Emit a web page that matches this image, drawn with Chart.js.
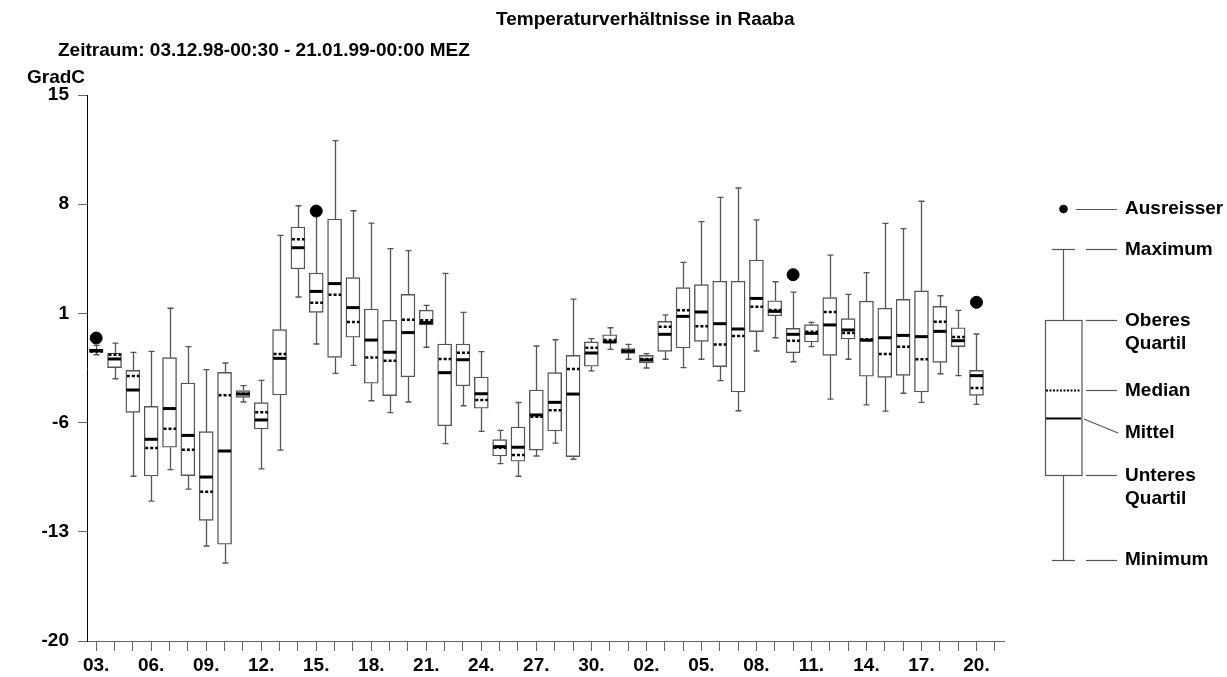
<!DOCTYPE html>
<html>
<head>
<meta charset="utf-8">
<title>Temperaturverhältnisse in Raaba</title>
<script src="https://cdn.jsdelivr.net/npm/chart.js@4.4.1/dist/chart.umd.min.js"></script>
<style>
  html, body { margin: 0; padding: 0; background: #fff; }
  #wrap { width: 1227px; height: 677px; position: relative; }
</style>
</head>
<body>
<div id="wrap"><canvas id="c" width="1227" height="677"></canvas></div>
<script>
// Tagesabschnitte 03.12.98 bis 21.01.99 (letzter Abschnitt ohne Werte)
const days = [
  '03.','04.','05.','06.','07.','08.','09.','10.','11.','12.','13.','14.','15.','16.','17.',
  '18.','19.','20.','21.','22.','23.','24.','25.','26.','27.','28.','29.','30.','31.',
  '01.','02.','03.','04.','05.','06.','07.','08.','09.','10.','11.','12.','13.','14.','15.',
  '16.','17.','18.','19.','20.','21.'
];

// Tageswerte in GradC
const minimum = [
  -1.65, -3.19, -9.44, -11.03, -9.01, -10.26, -13.91, -15.0, -4.68, -8.97,
  -7.76, 2.05, -0.96, -2.84, -2.33, -4.6, -5.36, -4.68, -1.17, -7.35,
  -4.92, -6.56, -8.63, -9.44, -8.14, -7.31, -8.35, -2.69, -1.3, -1.94,
  -2.5, -1.94, -2.48, -1.94, -3.31, -5.24, -1.41, -0.56, -2.1, -1.13,
  -4.49, -1.94, -4.87, -5.26, -4.12, -4.7, -2.87, -2.99, -4.83
];
const lowerQuartile = [
  -1.5, -2.48, -5.34, -9.42, -7.58, -9.4, -12.27, -13.8, -4.38, -6.41,
  -4.23, 3.85, 1.07, -1.82, -0.53, -3.48, -4.27, -3.06, 0.26, -6.2,
  -3.65, -5.08, -8.14, -8.48, -7.76, -6.54, -8.18, -2.39, -0.9, -1.56,
  -2.18, -1.43, -1.22, -0.79, -2.41, -4.04, -0.17, 0.85, -1.52, -0.83,
  -1.69, -0.64, -3.03, -3.1, -2.97, -4.04, -2.14, -1.13, -4.25
];
const median = [
  -1.45, -1.65, -3.01, -7.63, -6.39, -7.74, -10.43, -4.25, -4.15, -5.34,
  -1.6, 5.75, 1.69, 2.2, 0.45, -1.82, -2.03, 0.6, 0.56, -1.92,
  -1.52, -4.55, -7.61, -8.08, -5.62, -5.21, -2.56, -1.2, -0.71, -1.39,
  -1.92, 0.15, 1.2, 0.17, -1.0, -0.45, 1.43, 1.22, -0.75, -0.17,
  1.09, -0.26, -0.66, -1.6, -1.13, -1.94, 0.47, -0.51, -3.78
];
const mean = [
  -1.38, -1.92, -3.91, -7.07, -5.1, -6.82, -9.49, -7.82, -4.17, -5.83,
  -1.88, 5.21, 2.41, 2.91, 1.37, -0.71, -1.49, -0.23, 0.41, -2.8,
  -1.97, -4.15, -7.54, -7.58, -5.51, -4.7, -4.17, -1.54, -0.83, -1.43,
  -1.99, -0.34, 0.81, 1.09, 0.34, 0.0, 1.96, 1.13, -0.34, -0.28,
  0.26, -0.06, -0.72, -0.56, -0.41, -0.49, -0.15, -0.75, -2.99
];
const upperQuartile = [
  -1.28, -1.54, -2.65, -4.96, -1.84, -3.46, -6.58, -2.78, -3.95, -4.72,
  -0.04, 6.54, 3.59, 7.05, 3.29, 1.28, 0.56, 2.22, 1.2, -0.96,
  -0.96, -3.08, -7.09, -6.28, -3.91, -2.8, -1.69, -0.83, -0.37, -1.26,
  -1.69, 0.49, 2.65, 2.84, 3.06, 3.06, 4.42, 1.81, 0.04, 0.28,
  2.01, 0.66, 1.79, 1.33, 1.9, 2.44, 1.45, 0.08, -2.65
];
const maximum = [
  -1.05, -0.9, -1.5, -1.43, 1.33, -1.13, -2.61, -2.18, -3.63, -3.29,
  6.0, 7.9, 7.3, 12.07, 7.58, 6.79, 5.15, 5.02, 1.51, 3.57,
  1.07, -1.45, -6.5, -4.71, -1.09, -0.69, 1.91, -0.62, 0.08, -0.98,
  -1.58, 0.9, 4.27, 6.88, 8.44, 9.04, 6.99, 3.03, 2.37, 0.43,
  4.74, 2.22, 3.61, 6.77, 6.43, 8.19, 2.13, 1.2, -0.32
];
const outliers = [
  -0.58, null, null, null, null, null, null, null, null, null,
  null, null, 7.56, null, null, null, null, null, null, null,
  null, null, null, null, null, null, null, null, null, null,
  null, null, null, null, null, null, null, null, 3.48, null,
  null, null, null, null, null, null, null, null, 1.71
];

const yTicks = [-20, -13, -6, 1, 8, 15];

const FONT = "'Liberation Sans', Arial, Helvetica, sans-serif";
const BOLD19 = 'bold 19px ' + FONT;

// Whiskers behind the boxes, median and mean lines on top of them
const boxLines = {
  id: 'boxLines',
  beforeDatasetsDraw(chart) {
    const { ctx, scales: { x, y } } = chart;
    ctx.save();
    ctx.strokeStyle = '#555';
    ctx.lineWidth = 1.3;
    minimum.forEach((mn, i) => {
      const px = Math.round(x.getPixelForValue(i)) + 0.5;
      const yMax = y.getPixelForValue(maximum[i]);
      const yMin = y.getPixelForValue(mn);
      ctx.beginPath();
      ctx.moveTo(px, yMax); ctx.lineTo(px, y.getPixelForValue(upperQuartile[i]));
      ctx.moveTo(px, y.getPixelForValue(lowerQuartile[i])); ctx.lineTo(px, yMin);
      ctx.moveTo(px - 3, yMax); ctx.lineTo(px + 3, yMax);
      ctx.moveTo(px - 3, yMin); ctx.lineTo(px + 3, yMin);
      ctx.stroke();
    });
    ctx.restore();
  },
  afterDatasetsDraw(chart) {
    const { ctx, scales: { x, y } } = chart;
    ctx.save();
    ctx.strokeStyle = '#000';
    minimum.forEach((_, i) => {
      const px = x.getPixelForValue(i);
      const left = px - 6.5, right = px + 6.5;
      ctx.setLineDash([]);
      ctx.lineWidth = 3;
      const ym = y.getPixelForValue(mean[i]);
      ctx.beginPath(); ctx.moveTo(left, ym); ctx.lineTo(right, ym); ctx.stroke();
      ctx.setLineDash([3, 2]);
      ctx.lineWidth = 2.5;
      const yd = y.getPixelForValue(median[i]);
      ctx.beginPath(); ctx.moveTo(left + 0.5, yd); ctx.lineTo(right, yd); ctx.stroke();
    });
    ctx.restore();
  }
};

// Titles, unit label and the explanatory key on the right
const annotations = {
  id: 'annotations',
  afterDraw(chart) {
    const ctx = chart.ctx;
    ctx.save();
    ctx.fillStyle = '#000';
    ctx.font = BOLD19;
    ctx.textAlign = 'left';
    ctx.textBaseline = 'alphabetic';
    ctx.fillText('Temperaturverhältnisse in Raaba', 496, 25);
    ctx.fillText('Zeitraum: 03.12.98-00:30 - 21.01.99-00:00 MEZ', 58, 56);
    ctx.fillText('GradC', 27, 83);

    // key
    const cx = 1063.5;
    ctx.strokeStyle = '#555';
    ctx.lineWidth = 1.2;
    const seg = (x1, y1, x2, y2) => { ctx.beginPath(); ctx.moveTo(x1, y1); ctx.lineTo(x2, y2); ctx.stroke(); };
    ctx.beginPath(); ctx.arc(cx, 209, 4.3, 0, Math.PI * 2); ctx.fill();
    seg(1076, 209.5, 1117, 209.5);
    seg(1052, 249.5, 1075, 249.5); seg(1086, 249.5, 1117, 249.5);
    seg(cx, 249.5, cx, 320.5); seg(cx, 475.5, cx, 560.5);
    ctx.fillStyle = '#fff';
    ctx.fillRect(1045, 320.5, 37, 155);
    ctx.strokeRect(1045.5, 320.5, 36.5, 155);
    seg(1086, 320.5, 1117, 320.5);
    seg(1086, 475.5, 1117, 475.5);
    seg(1052, 560.5, 1075, 560.5); seg(1086, 560.5, 1117, 560.5);
    seg(1086, 390.5, 1117, 390.5);
    seg(1084, 419, 1118, 433);
    ctx.strokeStyle = '#000';
    ctx.lineWidth = 2;
    ctx.setLineDash([2, 1.5]);
    seg(1046, 390.5, 1081, 390.5);
    ctx.setLineDash([]);
    seg(1046, 418.5, 1081, 418.5);

    ctx.fillStyle = '#000';
    ctx.textBaseline = 'middle';
    const keyLabels = [
      ['Ausreisser', 209], ['Maximum', 250], ['Oberes', 321], ['Quartil', 344],
      ['Median', 391], ['Mittel', 433], ['Unteres', 476], ['Quartil', 499], ['Minimum', 560]
    ];
    keyLabels.forEach(([t, yy]) => ctx.fillText(t, 1125, yy));
    ctx.restore();
  }
};

new Chart(document.getElementById('c'), {
  type: 'bar',
  data: {
    labels: days,
    datasets: [
      {
        type: 'line',
        label: 'Ausreisser',
        data: outliers,
        showLine: false,
        pointRadius: 6,
        pointHoverRadius: 6,
        pointBackgroundColor: '#000',
        pointBorderColor: '#000',
        order: 0
      },
      {
        type: 'bar',
        label: 'Quartile',
        data: lowerQuartile.map((q, i) => [q, upperQuartile[i]]),
        backgroundColor: '#fff',
        borderColor: '#555',
        borderWidth: 1.4,
        borderSkipped: false,
        barThickness: 14,
        order: 1
      }
    ]
  },
  options: {
    responsive: false,
    animation: false,
    devicePixelRatio: 1,
    layout: { padding: { left: 0, top: 95, right: 223, bottom: 0 } },
    plugins: {
      legend: { display: false },
      tooltip: { enabled: false },
      title: { display: false }
    },
    scales: {
      x: {
        type: 'category',
        offset: true,
        grid: { drawOnChartArea: false, drawTicks: true, tickLength: 10, color: '#666', offset: false },
        border: { color: '#666', width: 1 },
        ticks: {
          autoSkip: false,
          maxRotation: 0,
          padding: 3,
          color: '#000',
          font: { family: FONT, size: 19, weight: 'bold' },
          callback: (v, i) => (i % 3 === 0 ? days[i] : '')
        },
        afterFit: (s) => { s.height = 36; }
      },
      y: {
        min: yTicks[0],
        max: yTicks[yTicks.length - 1],
        afterBuildTicks: (s) => { s.ticks = yTicks.map((v) => ({ value: v })); },
        grid: { drawOnChartArea: false, drawTicks: true, tickLength: 9, color: '#666' },
        border: { color: '#000', width: 1 },
        ticks: {
          padding: 9,
          color: '#000',
          font: { family: FONT, size: 19, weight: 'bold' }
        },
        afterFit: (s) => { s.width = 87; }
      }
    }
  },
  plugins: [boxLines, annotations]
});
</script>
</body>
</html>
